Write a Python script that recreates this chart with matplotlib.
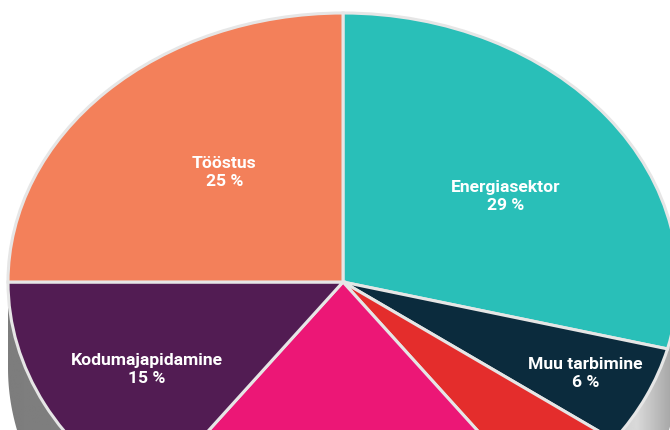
import matplotlib.pyplot as plt
import numpy as np
from matplotlib.patches import Polygon

# slices, clockwise from 12 o'clock
names = ['Energiasektor', 'Muu tarbimine', '', '', 'Kodumajapidamine', 'Tööstus']
shares = [29, 6, 5, 20, 15, 25]
colors = ['#29bfb8', '#0b2b3d', '#e42d2c', '#ec1776', '#521c53', '#f3805a']

# label placement (radius, angle tweak in degrees)
label_r = [0.58, 0.80, 0.6, 0.6, 0.67, 0.54]
label_dt = [-4.5, 0, 0, 0, 2, -4]

fig = plt.figure(figsize=(6.7, 4.3), dpi=100)
ax = fig.add_axes([0, 0, 1, 1])

# 3d side of the pie
depth = 0.32
t = np.linspace(np.pi, 2 * np.pi, 200)
side = np.concatenate([np.c_[np.cos(t), np.sin(t)],
                       np.c_[np.cos(t[::-1]), np.sin(t[::-1]) - depth]])
poly = Polygon(side, closed=True, facecolor='none', edgecolor='none')
ax.add_patch(poly)
grad = np.interp(np.linspace(-1, 1, 400),
                 [-1, -0.6, 0.0, 0.75, 0.88, 1.0],
                 [0.49, 0.51, 0.62, 0.80, 0.85, 0.62])
img = ax.imshow(np.tile(grad, (10, 1)), cmap='gray', vmin=0, vmax=1,
                extent=[-1, 1, -1 - depth, 0], aspect='auto', zorder=0)
img.set_clip_path(poly)

wedges, _ = ax.pie(shares, colors=colors, startangle=90, counterclock=False,
                   wedgeprops=dict(edgecolor='#e6e6e6', linewidth=2.2))

for w, name, share, r, dt in zip(wedges, names, shares, label_r, label_dt):
    if not name:
        continue
    a = np.deg2rad((w.theta1 + w.theta2) / 2 + dt)
    ax.text(r * np.cos(a), r * np.sin(a), f'{name}\n{share} %',
            ha='center', va='center', color='white', fontsize=12.6,
            fontweight='bold', family='Roboto', linespacing=1.25)

# stretch the round pie into the flat ellipse
ax.set_aspect('auto')
ax.set_xlim(-343 / 335, 327 / 335)
ax.set_ylim(-148 / 269, 282 / 269)
ax.axis('off')

fig.savefig('out.png', dpi=100)
